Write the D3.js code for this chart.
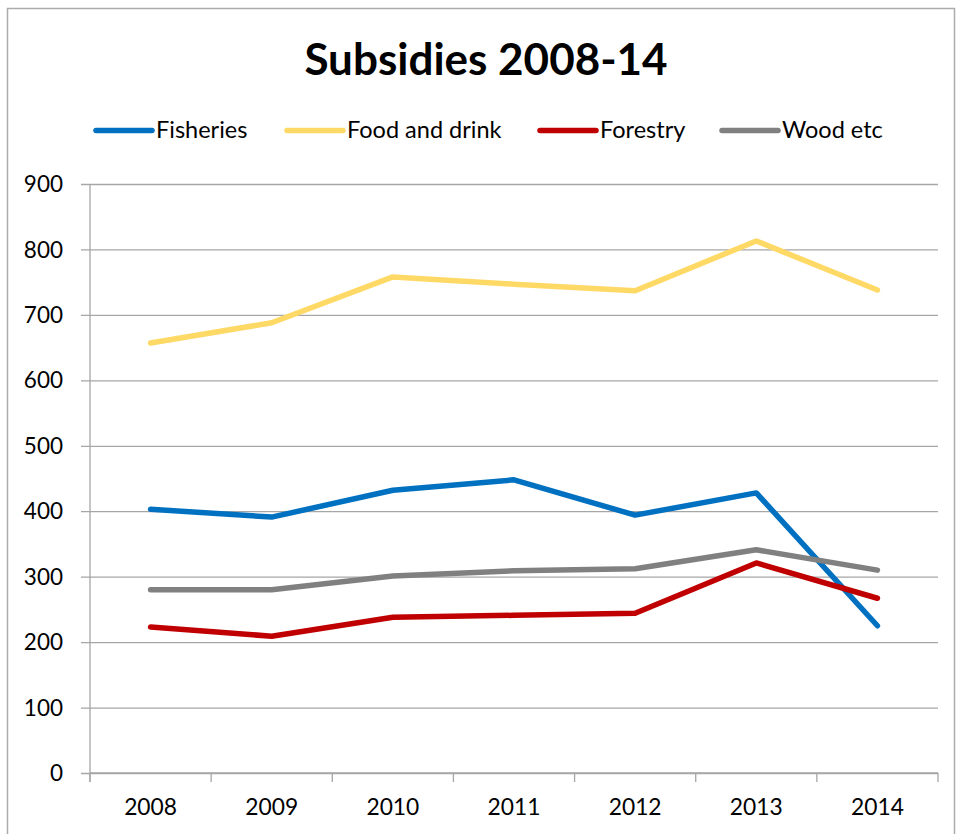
<!DOCTYPE html>
<html>
<head>
<meta charset="utf-8">
<script src="https://cdn.jsdelivr.net/npm/d3@7"></script>
<style>
  html, body { margin: 0; padding: 0; background: #fff; }
  svg text { font-family: Lato, "Open Sans", sans-serif; fill: #000; }
</style>
</head>
<body>
<svg id="chart" width="957" height="834"></svg>
<script>
// Subsidies by sector, 2008-2014
const years = ["2008", "2009", "2010", "2011", "2012", "2013", "2014"];
const fisheries = [403, 391, 432, 448, 394, 428, 225];
const foodAndDrink = [657, 688, 758, 747, 737, 813, 738];
const forestry = [223, 209, 238, 241, 244, 321, 267];
const woodEtc = [280, 280, 301, 309, 312, 341, 310];
const yTicks = [0, 100, 200, 300, 400, 500, 600, 700, 800, 900];

const seriesNames = ["Fisheries", "Food and drink", "Forestry", "Wood etc"];
const seriesColors = ["#0070C0", "#FFD966", "#C00000", "#808080"];
const series = [fisheries, foodAndDrink, forestry, woodEtc].map((values, i) => ({
  name: seriesNames[i], color: seriesColors[i], values
}));

const svg = d3.select("#chart");
const W = 957, H = 834;
const plot = { left: 90, right: 938, top: 184, bottom: 773 };

// outer chart border
svg.append("rect")
  .attr("x", 7.5).attr("y", 8.5)
  .attr("width", W - 10).attr("height", H)
  .attr("fill", "#fff").attr("stroke", "#ababab").attr("stroke-width", 1.5);

// title
svg.append("text")
  .attr("x", 486).attr("y", 75)
  .attr("text-anchor", "middle")
  .style("font-size", "44px").style("font-weight", "bold")
  .text("Subsidies 2008-14");

const x = d3.scaleBand().domain(years).range([plot.left, plot.right]).padding(0);
const y = d3.scaleLinear().domain([0, 900]).range([plot.bottom, plot.top]);

// horizontal gridlines with value labels
const yAxis = d3.axisLeft(y).tickValues(yTicks).tickSize(-(plot.right - plot.left)).tickSizeOuter(0).tickPadding(27);
const gy = svg.append("g").attr("transform", `translate(${plot.left},0)`).call(yAxis);
gy.select(".domain").remove();
gy.selectAll(".tick line").attr("stroke", "#a6a6a6").attr("stroke-width", 1.3).attr("x1", -9);
gy.selectAll(".tick text").style("font-size", "22.5px").attr("fill", "#000").attr("dy", "0.34em");

// vertical axis line
svg.append("line")
  .attr("x1", plot.left).attr("x2", plot.left)
  .attr("y1", plot.top).attr("y2", plot.bottom + 9)
  .attr("stroke", "#a6a6a6").attr("stroke-width", 1.3);

// category axis
const xAxis = d3.axisBottom(x).tickSize(0).tickPadding(26);
const gx = svg.append("g").attr("transform", `translate(0,${plot.bottom})`).call(xAxis);
gx.select(".domain").remove();
gx.selectAll(".tick text").style("font-size", "22.8px").attr("fill", "#000");
svg.append("line")
  .attr("x1", plot.left).attr("x2", plot.right)
  .attr("y1", plot.bottom).attr("y2", plot.bottom)
  .attr("stroke", "#a6a6a6").attr("stroke-width", 1.3);
// tick marks on band boundaries
const bounds = years.map(d => x(d)).concat([x(years[years.length - 1]) + x.bandwidth()]);
svg.append("g").selectAll("line").data(bounds).join("line")
  .attr("x1", d => d).attr("x2", d => d)
  .attr("y1", plot.bottom).attr("y2", plot.bottom + 9)
  .attr("stroke", "#a6a6a6").attr("stroke-width", 1.3);

// series lines
const line = d3.line()
  .x((d, i) => x(years[i]) + x.bandwidth() / 2)
  .y(d => y(d));
svg.append("g").selectAll("path").data(series).join("path")
  .attr("d", d => line(d.values))
  .attr("fill", "none")
  .attr("stroke", d => d.color)
  .attr("stroke-width", 5.5)
  .attr("stroke-linecap", "round")
  .attr("stroke-linejoin", "round");

// legend
const legendX = [96, 287, 540, 722];
const legendY = 130.5;
const lg = svg.append("g").selectAll("g").data(series).join("g")
  .attr("transform", (d, i) => `translate(${legendX[i]},${legendY})`);
lg.append("line")
  .attr("x1", 0).attr("x2", 56).attr("y1", 0).attr("y2", 0)
  .attr("stroke", d => d.color).attr("stroke-width", 5.5).attr("stroke-linecap", "round");
lg.append("text")
  .attr("x", 60).attr("y", 7)
  .style("font-size", "23.5px")
  .text(d => d.name);
</script>
</body>
</html>
